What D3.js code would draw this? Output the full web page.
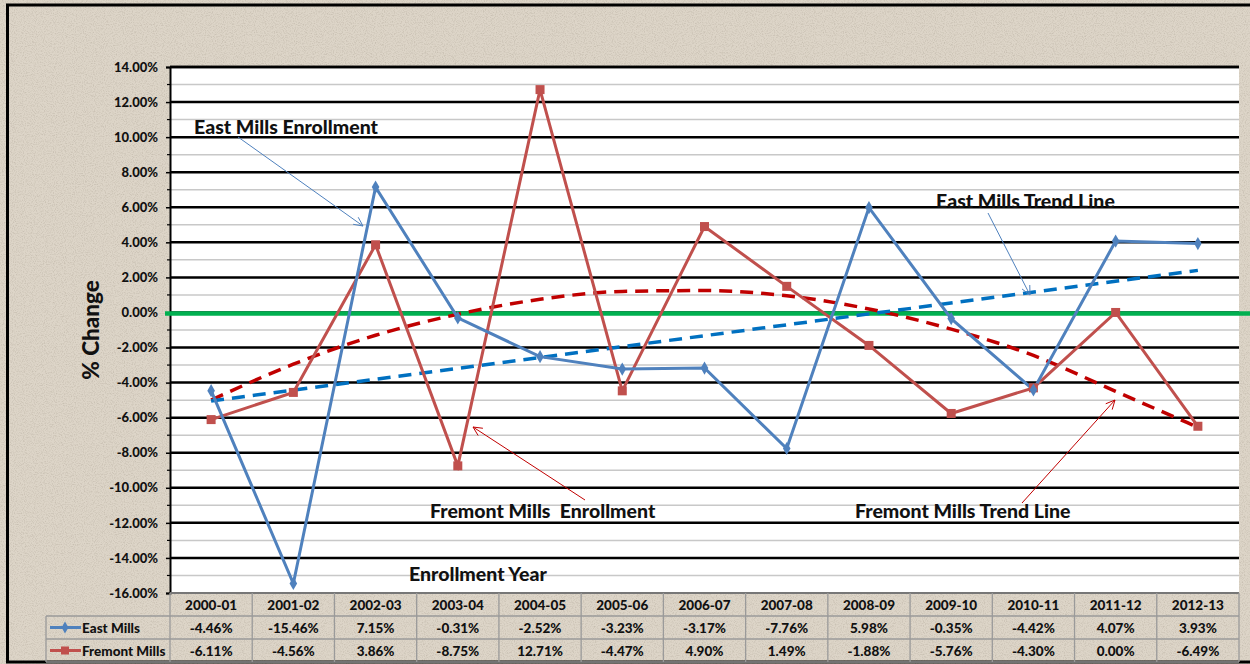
<!DOCTYPE html>
<html><head><meta charset="utf-8">
<script src="https://cdn.jsdelivr.net/npm/d3@7"></script>
<style>
html,body{margin:0;padding:0;background:#ddd5c8;}
svg{display:block;font-family:Lato,"Open Sans",sans-serif;font-weight:900;}
</style></head>
<body>
<svg id="chart" width="1250" height="664"></svg>
<script>
const categories = ["2000-01","2001-02","2002-03","2003-04","2004-05","2005-06","2006-07","2007-08","2008-09","2009-10","2010-11","2011-12","2012-13"];
const eastMills = [-4.46,-15.46,7.15,-0.31,-2.52,-3.23,-3.17,-7.76,5.98,-0.35,-4.42,4.07,3.93];
const fremontMills = [-6.11,-4.56,3.86,-8.75,12.71,-4.47,4.90,1.49,-1.88,-5.76,-4.30,0.00,-6.49];
// trend lines
const eastTrendCats = ["2000-01","2012-13"];
const eastTrend = [-5.05, 2.4];
const fremontTrend = [-5.0,-2.95,-1.3,-0.1,0.75,1.2,1.25,0.95,0.2,-0.95,-2.45,-4.5,-6.55];
const yTicks = [-16,-14,-12,-10,-8,-6,-4,-2,0,2,4,6,8,10,12,14];
const seriesNames = ["East Mills","Fremont Mills"];

const svg = d3.select("#chart");
const W = 1250, H = 664;
const L = 170, R = 1239, T = 67, B = 593;

// textured background
const defs = svg.append("defs");
const f = defs.append("filter").attr("id","noise").attr("x",0).attr("y",0).attr("width","100%").attr("height","100%");
f.append("feTurbulence").attr("type","fractalNoise").attr("baseFrequency",0.9).attr("numOctaves",2).attr("seed",3).attr("result","t");
f.append("feColorMatrix").attr("in","t").attr("type","matrix")
 .attr("values","0 0 0 0 0.45  0 0 0 0 0.40  0 0 0 0 0.33  0 0 0 -2.2 1.25").attr("result","n");
f.append("feComposite").attr("in","n").attr("in2","SourceGraphic").attr("operator","in");
svg.append("rect").attr("width",W).attr("height",H).attr("fill","#ddd5c8");
svg.append("rect").attr("width",W).attr("height",H).attr("fill","#ddd5c8").attr("filter","url(#noise)").attr("opacity",0.5);

// outer frame
svg.append("rect").attr("x",7.5).attr("y",5).attr("width",1260).attr("height",657)
  .attr("fill","none").attr("stroke","#000").attr("stroke-width",3);

const x = d3.scaleBand().domain(categories).range([L,R]);
const xc = c => x(c) + x.bandwidth()/2;
const y = d3.scaleLinear().domain([-16,14]).range([B,T]);

// plot area
svg.append("rect").attr("x",L).attr("y",T).attr("width",R-L).attr("height",B-T).attr("fill","#fff");

// gridlines
const allLevels = d3.range(-15,15);
svg.append("g").selectAll("line").data(allLevels).join("line")
  .attr("x1",L).attr("x2",R).attr("y1",d=>y(d)).attr("y2",d=>y(d))
  .attr("stroke",d=> d%2===0 ? "#000" : "#c8c8c8")
  .attr("stroke-width",d=> d%2===0 ? 2.5 : 1.5);
svg.append("line").attr("x1",L).attr("x2",R).attr("y1",y(14)).attr("y2",y(14)).attr("stroke","#000").attr("stroke-width",2.5);

// minor ticks
svg.append("g").selectAll("line").data(d3.range(-15,15,2)).join("line")
  .attr("x1",L-3).attr("x2",L).attr("y1",d=>y(d)).attr("y2",d=>y(d)).attr("stroke","#000").attr("stroke-width",1.2);

// y axis
const yAxis = d3.axisLeft(y).tickValues(yTicks).tickSize(4).tickPadding(8).tickFormat(d=>d.toFixed(2)+"%");
const ga = svg.append("g").attr("transform",`translate(${L},0)`).call(yAxis);
ga.select(".domain").attr("stroke","#000").attr("stroke-width",2);
ga.selectAll(".tick line").attr("stroke","#000").attr("stroke-width",1.5);
ga.selectAll(".tick text").attr("font-size",13).attr("font-weight",900).attr("fill","#111")
  .attr("font-family","Lato, sans-serif");

// axis title
svg.append("text").attr("transform","translate(99,330) rotate(-90)").attr("text-anchor","middle")
  .attr("font-size",22.5).attr("fill","#111").text("% Change");

// zero line
svg.append("line").attr("x1",165).attr("x2",W).attr("y1",y(0)+1).attr("y2",y(0)+1)
  .attr("stroke","#00b050").attr("stroke-width",4.5);

// trend lines
const line = d3.line().x(d=>d[0]).y(d=>y(d[1]));
svg.append("path").datum(fremontTrend.map((v,i)=>[xc(categories[i]),v]))
  .attr("d",line.curve(d3.curveMonotoneX)).attr("fill","none").attr("stroke","#c00000")
  .attr("stroke-width",3.5).attr("stroke-dasharray","13,8");
svg.append("path").datum(eastTrend.map((v,i)=>[xc(eastTrendCats[i]),v]))
  .attr("d",d3.line().x(d=>d[0]).y(d=>y(d[1]))).attr("fill","none").attr("stroke","#0070c0")
  .attr("stroke-width",3.5).attr("stroke-dasharray","13,8");

// data lines
const lin = d3.line().x((d,i)=>xc(categories[i])).y(d=>y(d));
svg.append("path").datum(fremontMills).attr("d",lin).attr("fill","none").attr("stroke","#c0504d").attr("stroke-width",3);
svg.append("path").datum(eastMills).attr("d",lin).attr("fill","none").attr("stroke","#4f81bd").attr("stroke-width",3);
svg.append("g").selectAll("rect").data(fremontMills).join("rect")
  .attr("x",(d,i)=>xc(categories[i])-4.5).attr("y",d=>y(d)-4.5).attr("width",9).attr("height",9).attr("fill","#c0504d");
svg.append("g").selectAll("path").data(eastMills).join("path")
  .attr("d",d3.symbol(d3.symbolDiamond,50)).attr("transform",(d,i)=>`translate(${xc(categories[i])},${y(d)})`).attr("fill","#4f81bd");

// annotations
function arrow(x1,y1,x2,y2,color){
  const g = svg.append("g").attr("stroke",color).attr("stroke-width",1).attr("fill","none");
  g.append("line").attr("x1",x1).attr("y1",y1).attr("x2",x2).attr("y2",y2);
  const a = Math.atan2(y2-y1,x2-x1), len=10, sp=0.45;
  g.append("path").attr("d",`M${x2-len*Math.cos(a-sp)},${y2-len*Math.sin(a-sp)}L${x2},${y2}L${x2-len*Math.cos(a+sp)},${y2-len*Math.sin(a+sp)}`);
}
const ann = [
  {t:"East Mills Enrollment",x:194,y:134},
  {t:"East Mills Trend Line",x:936,y:208},
  {t:"Fremont Mills\u00a0 Enrollment",x:430,y:518},
  {t:"Fremont Mills Trend Line",x:855,y:518},
  {t:"Enrollment Year",x:409,y:581}
];
svg.append("g").selectAll("text").data(ann).join("text").attr("x",d=>d.x).attr("y",d=>d.y)
  .attr("font-size",19.5).attr("fill","#111").text(d=>d.t);
arrow(238,137,363,226,"#4f81bd");
arrow(988,213,1030,295,"#4f81bd");
arrow(585,500,473,427,"#c00000");
arrow(1022,503,1115,400,"#c00000");

// data table
const tg = svg.append("g");
const gridC = "#9a9a9a";
tg.append("line").attr("x1",L).attr("x2",R).attr("y1",593).attr("y2",593).attr("stroke","#777").attr("stroke-width",2);
[616,639,662].forEach(yy=>tg.append("line").attr("x1",46).attr("x2",R).attr("y1",yy).attr("y2",yy).attr("stroke",gridC).attr("stroke-width",1.3));
categories.forEach(c=>tg.append("line").attr("x1",x(c)).attr("x2",x(c)).attr("y1",593).attr("y2",662).attr("stroke",gridC).attr("stroke-width",1.3));
tg.append("line").attr("x1",R).attr("x2",R).attr("y1",593).attr("y2",662).attr("stroke",gridC).attr("stroke-width",1.3);
tg.append("line").attr("x1",46).attr("x2",46).attr("y1",616).attr("y2",662).attr("stroke",gridC).attr("stroke-width",1.3);
const fs = 13.5;
tg.selectAll(".hdr").data(categories).join("text").attr("class","hdr")
  .attr("x",d=>xc(d)).attr("y",610).attr("text-anchor","middle").attr("font-size",fs).attr("fill","#111").text(d=>d);
const fmt = v => v.toFixed(2)+"%";
tg.selectAll(".ev").data(eastMills).join("text").attr("class","ev")
  .attr("x",(d,i)=>xc(categories[i])).attr("y",633).attr("text-anchor","middle").attr("font-size",fs).attr("fill","#111").text(fmt);
tg.selectAll(".fv").data(fremontMills).join("text").attr("class","fv")
  .attr("x",(d,i)=>xc(categories[i])).attr("y",656).attr("text-anchor","middle").attr("font-size",fs).attr("fill","#111").text(fmt);
// legend keys
tg.append("line").attr("x1",50).attr("x2",81).attr("y1",627.5).attr("y2",627.5).attr("stroke","#4f81bd").attr("stroke-width",3);
tg.append("path").attr("d",d3.symbol(d3.symbolDiamond,40)).attr("transform","translate(65,627.5)").attr("fill","#4f81bd");
tg.append("line").attr("x1",50).attr("x2",81).attr("y1",650.5).attr("y2",650.5).attr("stroke","#c0504d").attr("stroke-width",3);
tg.append("rect").attr("x",61).attr("y",646.5).attr("width",8).attr("height",8).attr("fill","#c0504d");
tg.append("text").attr("x",82).attr("y",633).attr("font-size",fs).attr("fill","#111").text(seriesNames[0]);
tg.append("text").attr("x",82).attr("y",656).attr("font-size",fs).attr("fill","#111").text(seriesNames[1]);
</script>
</body></html>
